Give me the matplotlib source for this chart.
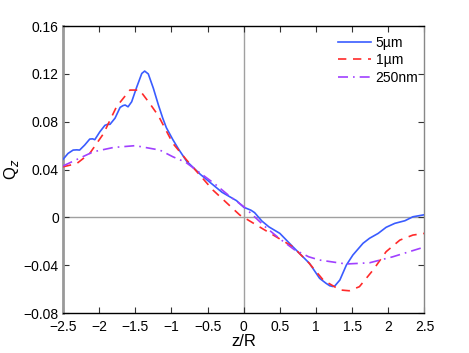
import matplotlib
matplotlib.use("Agg")
import matplotlib.pyplot as plt

plt.rcParams['font.family'] = ['Liberation Sans', 'DejaVu Sans']

z_5um = [-2.5, -2.43, -2.36, -2.31, -2.27, -2.2, -2.13, -2.09, -2.06, -1.99, -1.92, -1.88, -1.85, -1.78, -1.71,
         -1.67, -1.64, -1.6, -1.55, -1.48, -1.41, -1.37, -1.32, -1.25, -1.18, -1.12, -1.07, -0.98, -0.9, -0.79,
         -0.6, -0.4, -0.3, -0.2, -0.1, 0.0, 0.1, 0.15, 0.25, 0.35, 0.5, 0.68, 0.91, 1.05,
         1.14, 1.19, 1.23, 1.26, 1.33, 1.42, 1.51, 1.65, 1.74, 1.86, 1.97, 2.09, 2.23, 2.34, 2.5]
q_5um = [0.0485, 0.0535, 0.0563, 0.0565, 0.0563, 0.0605, 0.0655, 0.0657, 0.065, 0.0716, 0.077, 0.0779, 0.0778, 0.083, 0.092,
         0.0935, 0.094, 0.0925, 0.0967, 0.109, 0.1204, 0.1224, 0.120, 0.108, 0.094, 0.083, 0.075, 0.065, 0.057, 0.047,
         0.036, 0.026, 0.021, 0.0175, 0.014, 0.0085, 0.006, 0.004, -0.003, -0.008, -0.0134, -0.0246, -0.0385, -0.051,
         -0.0552, -0.0572, -0.0578, -0.0574, -0.0524, -0.0399, -0.0315, -0.0217, -0.0175, -0.0134, -0.0083, -0.005, -0.0028, 0.0005, 0.0022]

z_1um = [-2.5, -2.31, -2.13, -1.94, -1.76, -1.575, -1.44, -1.3, -1.18, -0.98, -0.79, -0.425,
         -0.055, 0.0, 0.22, 0.47, 0.68, 0.9, 1.1, 1.33, 1.46, 1.6, 1.79, 1.97, 2.16, 2.34, 2.5]
q_1um = [0.0423, 0.045, 0.0535, 0.070, 0.0925, 0.1065, 0.1065, 0.0953, 0.085, 0.0619, 0.048, 0.0228,
         0.002, 0.0, -0.008, -0.017, -0.0246, -0.038, -0.0524, -0.0607, -0.0614, -0.058, -0.044, -0.0287, -0.019, -0.0148, -0.0134]

z_250nm = [-2.5, -2.08, -1.8, -1.5, -1.16, -0.98, -0.8, -0.6, -0.4, -0.2, 0.0, 0.3, 0.5, 0.7,
           0.9, 1.05, 1.42, 1.74, 2.06, 2.5]
q_250nm = [0.043, 0.0549, 0.0585, 0.060, 0.0563, 0.0507, 0.046, 0.037, 0.028, 0.018, 0.009, -0.008, -0.018, -0.027,
           -0.033, -0.0357, -0.039, -0.038, -0.033, -0.0248]

labels = ['5\u00b5m', '1\u00b5m', '250nm']
xticks = [-2.5, -2, -1.5, -1, -0.5, 0, 0.5, 1, 1.5, 2, 2.5]
xticklabels = ['\u22122.5', '\u22122', '\u22121.5', '\u22121', '\u22120.5', '0', '0.5', '1', '1.5', '2', '2.5']
yticks = [-0.08, -0.04, 0, 0.04, 0.08, 0.12, 0.16]
yticklabels = ['\u22120.08', '\u22120.04', '0', '0.04', '0.08', '0.12', '0.16']

fig = plt.figure(figsize=(4.69, 3.53), dpi=100)
ax = fig.add_axes([0.1343, 0.1133, 0.7707, 0.8127])

ax.axhline(0, color='#a0a0a0', lw=1.0, zorder=1)
ax.axvline(0, color='#a0a0a0', lw=1.0, zorder=1)

ax.plot(z_5um, q_5um, '-', color='#3a5cff', lw=1.2, label=labels[0], zorder=3)
ax.plot(z_1um, q_1um, '--', color='#ff2a2a', lw=1.2, dashes=(5, 4), label=labels[1], zorder=3)
ax.plot(z_250nm, q_250nm, '-.', color='#a040ff', lw=1.2, dashes=(6, 3, 1, 3), label=labels[2], zorder=3)

ax.set_xlim(-2.5, 2.5)
ax.set_ylim(-0.08, 0.16)
ax.set_xticks(xticks)
ax.set_xticklabels(xticklabels)
ax.set_yticks(yticks)
ax.set_yticklabels(yticklabels)
ax.tick_params(direction='in', top=True, right=True, length=4, width=0.8,
               labelsize=10, color='#333333')
ax.tick_params(axis='x', pad=5)
ax.tick_params(axis='y', pad=3)

for s in ['top', 'bottom']:
    ax.spines[s].set_color('black')
    ax.spines[s].set_linewidth(1.0)
ax.spines['left'].set_color('#999999')
ax.spines['left'].set_linewidth(2.0)
ax.spines['right'].set_color('#888888')
ax.spines['right'].set_linewidth(1.0)

ax.set_xlabel('z/R', fontsize=12, labelpad=0)
ax.set_ylabel('Q$_z$', fontsize=12, labelpad=2)

leg = ax.legend(loc='upper right', frameon=False, fontsize=10, handlelength=2.4,
                handletextpad=0.3, labelspacing=0.25, borderaxespad=0.3,
                bbox_to_anchor=(1.01, 1.0))

fig.savefig('out.png', dpi=100)
